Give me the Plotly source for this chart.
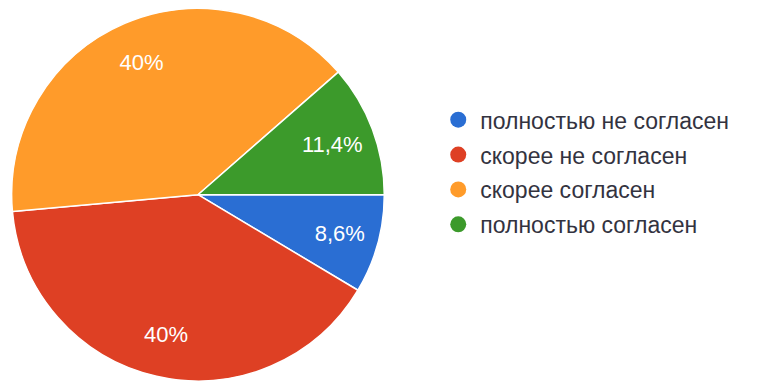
import plotly.graph_objects as go

labels = ["полностью не согласен", "скорее не согласен", "скорее согласен", "полностью согласен"]
counts = [3, 14, 14, 4]
colors = ["#2a6ed3", "#de4024", "#ff9b2a", "#3c9a2b"]

dom = dict(x=[0.0135, 0.5075], y=[0.0, 0.978])
font_family = "Liberation Sans, Arial, sans-serif"

fig = go.Figure()
# filled slices
fig.add_trace(go.Pie(
    labels=labels,
    values=counts,
    sort=False,
    direction="clockwise",
    rotation=90,
    marker=dict(colors=colors, line=dict(color="white", width=1.5)),
    textinfo="none",
    domain=dom,
    showlegend=False,
    hoverinfo="label+percent",
))
# transparent ring carrying the percentage labels (places them in the outer part of each slice)
fig.add_trace(go.Pie(
    labels=labels,
    values=counts,
    sort=False,
    direction="clockwise",
    rotation=90,
    hole=0.54,
    marker=dict(colors=["rgba(0,0,0,0)"] * len(labels), line=dict(width=0)),
    texttemplate="%{percent:.1~%}",
    textposition="inside",
    insidetextorientation="horizontal",
    textfont=dict(family=font_family, size=22, color="white"),
    domain=dom,
    showlegend=False,
    hoverinfo="skip",
))

for lab, col in zip(labels, colors):
    fig.add_trace(go.Scatter(
        x=[None], y=[None], mode="markers", name=lab, legendgroup=lab,
        marker=dict(symbol="circle", size=20, color=col),
        showlegend=True,
    ))

fig.update_layout(
    width=760, height=381,
    margin=dict(l=0, r=0, t=0, b=0),
    paper_bgcolor="white", plot_bgcolor="white",
    separators=", ",
    xaxis=dict(visible=False), yaxis=dict(visible=False),
    legend=dict(
        x=0.574, y=0.548, xanchor="left", yanchor="middle",
        font=dict(family=font_family, size=23, color="#33333f"),
        tracegroupgap=2, itemwidth=34, bgcolor="rgba(0,0,0,0)",
    ),
)

fig.write_html("out.html")
